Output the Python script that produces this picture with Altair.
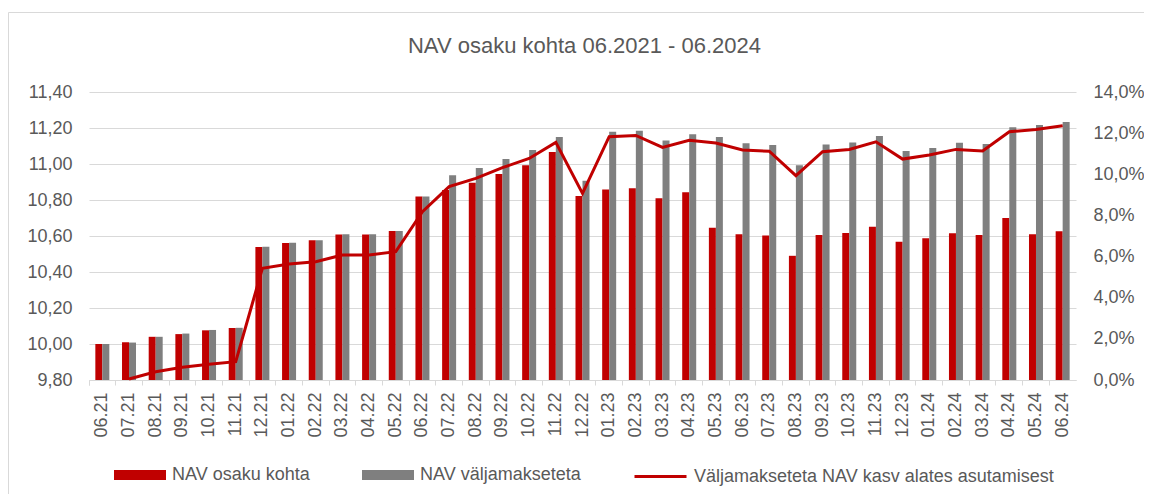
import altair as alt
import pandas as pd

months = ["06.21", "07.21", "08.21", "09.21", "10.21", "11.21", "12.21",
          "01.22", "02.22", "03.22", "04.22", "05.22", "06.22", "07.22", "08.22", "09.22", "10.22", "11.22", "12.22",
          "01.23", "02.23", "03.23", "04.23", "05.23", "06.23", "07.23", "08.23", "09.23", "10.23", "11.23", "12.23",
          "01.24", "02.24", "03.24", "04.24", "05.24", "06.24"]

nav_unit = [10.00, 10.01, 10.04, 10.055, 10.076, 10.089, 10.539,
            10.561, 10.576, 10.609, 10.609, 10.628, 10.82, 10.856, 10.896, 10.944, 10.993, 11.067, 10.822,
            10.859, 10.865, 10.81, 10.843, 10.646, 10.61, 10.603, 10.49, 10.606, 10.617, 10.652, 10.568,
            10.587, 10.615, 10.606, 10.70, 10.61, 10.626]

nav_no_payout = [10.00, 10.008, 10.04, 10.058, 10.078, 10.09, 10.54,
                 10.562, 10.577, 10.61, 10.61, 10.628, 10.82, 10.937, 10.978, 11.028, 11.078, 11.15, 10.907,
                 11.179, 11.185, 11.13, 11.165, 11.15, 11.115, 11.106, 10.993, 11.109, 11.12, 11.156, 11.072,
                 11.089, 11.118, 11.111, 11.204, 11.217, 11.233]

growth_pct = [None, 0.05, 0.40, 0.62, 0.76, 0.89, 5.43,
              5.64, 5.75, 6.08, 6.08, 6.24, 8.18, 9.40, 9.80, 10.32, 10.77, 11.55, 9.07,
              11.83, 11.89, 11.31, 11.65, 11.52, 11.18, 11.12, 9.93, 11.10, 11.21, 11.58, 10.74,
              10.94, 11.21, 11.13, 12.07, 12.18, 12.36]

bar_series = ["NAV osaku kohta", "NAV väljamakseteta"]
line_series = ["Väljamakseteta NAV kasv alates asutamisest"]
left_ticks = [9.8, 10.0, 10.2, 10.4, 10.6, 10.8, 11.0, 11.2, 11.4]
right_ticks = [0, 2, 4, 6, 8, 10, 12, 14]
title_text = "NAV osaku kohta 06.2021 - 06.2024"

RED = "#c00000"
GRAY = "#7f7f7f"
TXT = "#595959"
GRID = "#d9d9d9"
FONT = "Liberation Sans"

rows = []
for m, a, b in zip(months, nav_unit, nav_no_payout):
    rows.append({"month": m, "series": bar_series[0], "value": a})
    rows.append({"month": m, "series": bar_series[1], "value": b})
bars_df = pd.DataFrame(rows)
line_df = pd.DataFrame({"month": months, "pct": growth_pct, "series": line_series * len(months)})

x_enc = alt.X("month:N", sort=months,
              scale=alt.Scale(paddingInner=0, paddingOuter=0),
              axis=alt.Axis(title=None, labelAngle=270, bandPosition=0, tickExtra=True,
                            ticks=True, tickSize=5, tickColor=GRID, domainColor=GRID,
                            grid=False, labelPadding=7))

bars = alt.Chart(bars_df).mark_bar().encode(
    x=x_enc,
    xOffset=alt.XOffset("series:N", sort=bar_series,
                        scale=alt.Scale(paddingOuter=0.906, paddingInner=0)),
    y=alt.Y("value:Q",
            scale=alt.Scale(domain=[9.8, 11.4], zero=False, clamp=True, nice=False),
            axis=alt.Axis(title=None, values=left_ticks, ticks=False, domain=False,
                          grid=True, gridColor=GRID, labelPadding=17,
                          labelExpr="replace(format(datum.value, '.2f'), '.', ',')")),
    color=alt.Color("series:N", sort=bar_series,
                    scale=alt.Scale(domain=bar_series, range=[RED, GRAY]),
                    legend=alt.Legend(title=None, orient="none", legendX=25, legendY=357,
                                      direction="horizontal",
                                      symbolType="M-1,-0.19L1,-0.19L1,0.19L-1,0.19Z",
                                      symbolSize=2704, symbolStrokeWidth=0,
                                      labelFontSize=18, labelColor=TXT, labelFont=FONT,
                                      labelOffset=6, columnPadding=52, labelLimit=400)),
)

line = alt.Chart(line_df).mark_line(strokeWidth=3).encode(
    x=alt.X("month:N", sort=months),
    y=alt.Y("pct:Q", scale=alt.Scale(domain=[0, 14], nice=False),
            axis=alt.Axis(title=None, orient="right", values=right_ticks, ticks=False,
                          domain=False, grid=False, labelPadding=17,
                          labelExpr="replace(format(datum.value, '.1f'), '.', ',') + '%'")),
    stroke=alt.Stroke("series:N",
                      scale=alt.Scale(domain=line_series, range=[RED]),
                      legend=alt.Legend(title=None, orient="none", legendX=544, legendY=357,
                                        symbolType="stroke", symbolSize=2704,
                                        symbolStrokeWidth=3,
                                        labelFontSize=18, labelColor=TXT, labelFont=FONT,
                                        labelOffset=6, labelLimit=500)),
)

# chart border (left and top edges; right/bottom lie beyond the picture)
border_df = pd.DataFrame({"k": [0]})
border_top = alt.Chart(border_df).mark_rule(color=GRID, strokeWidth=1).encode(
    x=alt.value(-80.5), x2=alt.value(1055), y=alt.value(-79.5))
border_left = alt.Chart(border_df).mark_rule(color=GRID, strokeWidth=1).encode(
    x=alt.value(-80.5), y=alt.value(-79.5), y2=alt.value(402))

chart = alt.layer(border_top, border_left, bars, line).resolve_scale(
    y="independent", color="independent"
).properties(
    width=987, height=288,
    title=alt.Title(title_text, fontSize=22, font=FONT, fontWeight="normal", color=TXT,
                    anchor="middle", baseline="alphabetic", offset=-63, dx=2),
    autosize=alt.AutoSizeParams(type="none"),
    padding={"left": 81, "top": 84, "right": 68, "bottom": 114},
).configure_view(stroke=None).configure_axis(
    labelFont=FONT, labelFontSize=18, labelColor=TXT
)

chart.save("out.html", embed_options={"renderer": "svg", "actions": False})
